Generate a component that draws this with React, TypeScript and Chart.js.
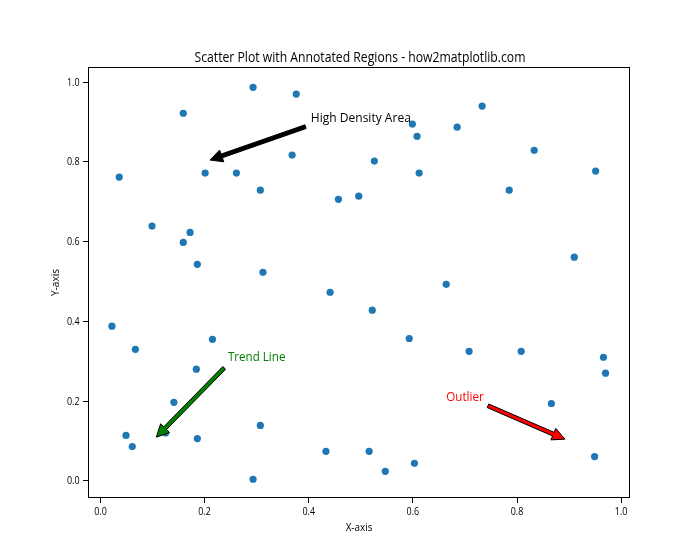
import React, { useEffect, useRef } from "react";
import { Chart, registerables } from "chart.js";

Chart.register(...registerables);

// ---- data ----
const X_VALUES = [
  0.293, 0.376, 0.159, 0.368, 0.036, 0.201, 0.261, 0.307, 0.457, 0.496,
  0.099, 0.172, 0.159, 0.186, 0.312, 0.733, 0.599, 0.608, 0.685, 0.833,
  0.526, 0.612, 0.785, 0.951, 0.910, 0.441, 0.022, 0.067, 0.215, 0.184,
  0.141, 0.049, 0.061, 0.125, 0.186, 0.307, 0.433, 0.293, 0.664, 0.522,
  0.593, 0.708, 0.808, 0.966, 0.970, 0.866, 0.516, 0.547, 0.603, 0.949,
];
const Y_VALUES = [
  0.987, 0.970, 0.922, 0.817, 0.762, 0.772, 0.772, 0.729, 0.706, 0.714,
  0.639, 0.623, 0.598, 0.543, 0.523, 0.940, 0.895, 0.864, 0.887, 0.829,
  0.802, 0.772, 0.729, 0.777, 0.561, 0.473, 0.388, 0.330, 0.355, 0.280,
  0.197, 0.114, 0.086, 0.120, 0.106, 0.139, 0.074, 0.004, 0.493, 0.428,
  0.357, 0.325, 0.325, 0.310, 0.270, 0.194, 0.074, 0.024, 0.044, 0.061,
];
const TICK_VALUES = [0, 0.2, 0.4, 0.6, 0.8, 1.0];
const TICK_LABELS = ["0.0", "0.2", "0.4", "0.6", "0.8", "1.0"];
const X_RANGE = [-0.024, 1.017];
const Y_RANGE = [-0.043, 1.038];

const TITLE = "Scatter Plot with Annotated Regions - how2matplotlib.com";
const X_LABEL = "X-axis";
const Y_LABEL = "Y-axis";

const ANNOT_TEXTS = ["High Density Area", "Trend Line", "Outlier"];
const ANNOT_TARGET_X = [0.2, 0.1, 0.9];
const ANNOT_TARGET_Y = [0.8, 0.1, 0.1];
const ANNOT_TEXT_X = [0.5, 0.3, 0.7];
const ANNOT_TEXT_Y = [0.9, 0.3, 0.2];
const ANNOT_TEXT_COLORS = ["#000000", "#008000", "#ff0000"];
const ANNOT_ARROW_COLORS = ["#000000", "#008000", "#ff0000"];

// ---- styles ----
const FONT = '"Open Sans", "Noto Sans", sans-serif';
const POINT_COLOR = "#1f77b4";
const ANNOT_WIDTHS = [100, 57.4, 37.5];
const ANNOT_SIZE = 11.7;

function drawText(
  ctx: CanvasRenderingContext2D,
  text: string,
  x: number,
  y: number,
  size: number,
  color: string,
  width: number,
  align: CanvasTextAlign,
  rotate = 0
) {
  ctx.save();
  ctx.font = `${size}px ${FONT}`;
  const w = ctx.measureText(text).width || 1;
  ctx.translate(x, y);
  if (rotate) ctx.rotate(rotate);
  ctx.scale(width / w, 1);
  ctx.fillStyle = color;
  ctx.textAlign = align;
  ctx.textBaseline = "alphabetic";
  ctx.fillText(text, 0, 0);
  ctx.restore();
}

function drawArrow(
  ctx: CanvasRenderingContext2D,
  x0: number,
  y0: number,
  x1: number,
  y1: number,
  fill: string
) {
  const dx = x1 - x0;
  const dy = y1 - y0;
  const L = Math.hypot(dx, dy);
  const ux = dx / L;
  const uy = dy / L;
  const nx = -uy;
  const ny = ux;
  const tw = 3.9 / 2;
  const hw = 12.5 / 2;
  const hl = 12.5;
  const bx = x1 - ux * hl;
  const by = y1 - uy * hl;
  ctx.save();
  ctx.beginPath();
  ctx.moveTo(x0 + nx * tw, y0 + ny * tw);
  ctx.lineTo(bx + nx * tw, by + ny * tw);
  ctx.lineTo(bx + nx * hw, by + ny * hw);
  ctx.lineTo(x1, y1);
  ctx.lineTo(bx - nx * hw, by - ny * hw);
  ctx.lineTo(bx - nx * tw, by - ny * tw);
  ctx.lineTo(x0 - nx * tw, y0 - ny * tw);
  ctx.closePath();
  ctx.fillStyle = fill;
  ctx.fill();
  ctx.lineWidth = 1;
  ctx.lineJoin = "miter";
  ctx.strokeStyle = "#000000";
  ctx.stroke();
  ctx.restore();
}

const decorPlugin = {
  id: "mplDecor",
  afterDraw(chart: any) {
    const ctx: CanvasRenderingContext2D = chart.ctx;
    const xs = chart.scales.x;
    const ys = chart.scales.y;
    const a = chart.chartArea;

    // frame
    ctx.save();
    ctx.strokeStyle = "#000000";
    ctx.lineWidth = 1;
    ctx.strokeRect(a.left + 0.5, a.top + 0.5, a.right - a.left - 1, a.bottom - a.top - 1);
    ctx.restore();

    // tick labels
    TICK_VALUES.forEach((v, i) => {
      const px = xs.getPixelForValue(v);
      drawText(ctx, TICK_LABELS[i], px, a.bottom + 16.5, 10, "#000", 12.6, "center");
      const py = ys.getPixelForValue(v);
      drawText(ctx, TICK_LABELS[i], a.left - 8.5, py + 3.6, 10, "#000", 12.6, "right");
    });

    // axis labels & title
    const cx = (a.left + a.right) / 2;
    const cy = (a.top + a.bottom) / 2;
    drawText(ctx, X_LABEL, cx, a.bottom + 33, 10, "#000", 26.7, "center");
    drawText(ctx, Y_LABEL, a.left - 29, cy, 10, "#000", 27, "center", -Math.PI / 2);
    drawText(ctx, TITLE, cx + 1, a.top - 5, 14, "#000", 331, "center");

    // annotations
    ANNOT_TEXTS.forEach((t, i) => {
      const tx = xs.getPixelForValue(ANNOT_TEXT_X[i]);
      const ty = ys.getPixelForValue(ANNOT_TEXT_Y[i]);
      const gx = xs.getPixelForValue(ANNOT_TARGET_X[i]);
      const gy = ys.getPixelForValue(ANNOT_TARGET_Y[i]);
      const w = ANNOT_WIDTHS[i];
      const xOpts = [tx - w / 2, tx, tx + w / 2];
      const top = ty - ANNOT_SIZE * 0.95;
      const bottom = ty + ANNOT_SIZE * 0.24;
      const yOpts = [top, (top + bottom) / 2, bottom];
      const sx = xOpts.reduce((b, c) => (Math.abs(c - gx) < Math.abs(b - gx) ? c : b));
      const sy = yOpts.reduce((b, c) => (Math.abs(c - gy) < Math.abs(b - gy) ? c : b));
      const r = Math.hypot(gx - sx, gy - sy);
      const s = 0.05 * r;
      const ux = (gx - sx) / r;
      const uy = (gy - sy) / r;
      drawArrow(ctx, sx + ux * s, sy + uy * s, gx - ux * s, gy - uy * s, ANNOT_ARROW_COLORS[i]);
      drawText(ctx, t, tx, ty, ANNOT_SIZE, ANNOT_TEXT_COLORS[i], w, "center");
    });
  },
};

export default function App() {
  const ref = useRef<HTMLCanvasElement>(null);
  useEffect(() => {
    if (!ref.current) return;
    const tickSetter = (s: any) => {
      s.ticks = TICK_VALUES.map((v) => ({ value: v }));
    };
    const gridOpts = {
      display: true,
      drawOnChartArea: false,
      drawTicks: true,
      tickLength: 5,
      color: "#000000",
      lineWidth: 1,
    };
    const chart = new Chart(ref.current, {
      type: "scatter",
      data: {
        datasets: [
          {
            data: X_VALUES.map((x, i) => ({ x, y: Y_VALUES[i] })),
            backgroundColor: POINT_COLOR,
            borderWidth: 0,
            pointRadius: 3.6,
            pointHoverRadius: 3.6,
          },
        ],
      },
      options: {
        responsive: false,
        animation: false,
        devicePixelRatio: 1,
        layout: { padding: { left: 0, top: 67, right: 70, bottom: 0 } },
        plugins: { legend: { display: false }, tooltip: { enabled: false }, title: { display: false } },
        events: [],
        scales: {
          x: {
            type: "linear",
            min: X_RANGE[0],
            max: X_RANGE[1],
            afterBuildTicks: tickSetter,
            afterFit: (s: any) => {
              s.height = 62;
            },
            ticks: { display: false },
            grid: gridOpts,
            border: { display: false },
          },
          y: {
            type: "linear",
            min: Y_RANGE[0],
            max: Y_RANGE[1],
            afterBuildTicks: tickSetter,
            afterFit: (s: any) => {
              s.width = 88;
            },
            ticks: { display: false },
            grid: gridOpts,
            border: { display: false },
          },
        },
      } as any,
      plugins: [decorPlugin],
    });
    return () => chart.destroy();
  }, []);
  return (
    <div style={{ position: "fixed", left: 0, top: 0, width: 700, height: 560, background: "#fff" }}>
      <canvas ref={ref} width={700} height={560} style={{ display: "block" }} />
    </div>
  );
}
